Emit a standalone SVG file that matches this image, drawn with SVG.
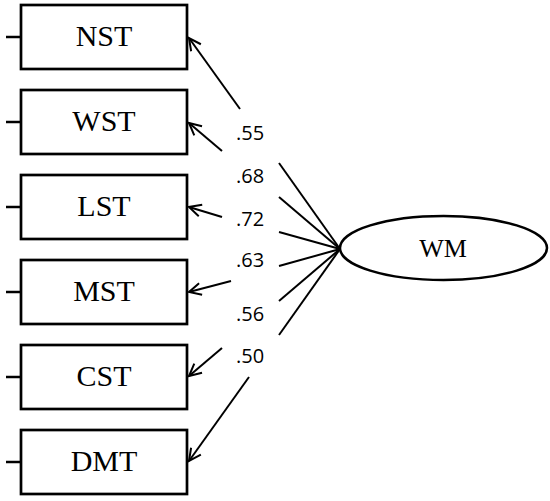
<svg xmlns="http://www.w3.org/2000/svg" width="550" height="501" viewBox="0 0 550 501">
<style>
.box{fill:#fff;stroke:#000;stroke-width:2.7}
.stub{stroke:#000;stroke-width:2.5}
.lbl{font-family:"Liberation Serif","Times New Roman",serif;font-size:30px;text-anchor:middle;fill:#000}
.num{font-family:"Open Sans","DejaVu Sans",sans-serif;font-size:20px;text-anchor:middle;fill:#000}
.con{stroke:#000;stroke-width:2;fill:none}
</style>
<defs>
<marker id="arr" viewBox="-14 -8 16 16" refX="0" refY="0" markerWidth="16" markerHeight="16" markerUnits="userSpaceOnUse" orient="auto">
<path d="M-12,-6 L0,0 L-12,6" fill="none" stroke="#000" stroke-width="2"/>
</marker>
</defs>
<rect width="550" height="501" fill="#fff"/>
<g id="NST"><line class="stub" x1="6" y1="37" x2="21" y2="37"/><rect class="box" x="21" y="5" width="166" height="64"/><text class="lbl" x="104" y="46">NST</text></g>
<g id="WST"><line class="stub" x1="6" y1="122" x2="21" y2="122"/><rect class="box" x="21" y="90" width="166" height="64"/><text class="lbl" x="104" y="131">WST</text></g>
<g id="LST"><line class="stub" x1="6" y1="207" x2="21" y2="207"/><rect class="box" x="21" y="175" width="166" height="64"/><text class="lbl" x="104" y="216">LST</text></g>
<g id="MST"><line class="stub" x1="6" y1="292" x2="21" y2="292"/><rect class="box" x="21" y="260" width="166" height="64"/><text class="lbl" x="104" y="301">MST</text></g>
<g id="CST"><line class="stub" x1="6" y1="377" x2="21" y2="377"/><rect class="box" x="21" y="345" width="166" height="64"/><text class="lbl" x="104" y="386">CST</text></g>
<g id="DMT"><line class="stub" x1="6" y1="462" x2="21" y2="462"/><rect class="box" x="21" y="430" width="166" height="64"/><text class="lbl" x="104" y="471">DMT</text></g>
<g id="WM"><ellipse cx="443.5" cy="248" rx="103.5" ry="32" fill="#fff" stroke="#000" stroke-width="2.5"/><text class="lbl" x="443" y="257" style="font-size:26px">WM</text></g>
<g id="connectors">
<line class="con" x1="240" y1="109" x2="189" y2="38" marker-end="url(#arr)"/>
<line class="con" x1="279" y1="163" x2="340" y2="249"/>
<line class="con" x1="222" y1="151" x2="189" y2="123" marker-end="url(#arr)"/>
<line class="con" x1="279" y1="197" x2="340" y2="249"/>
<line class="con" x1="222" y1="217" x2="189" y2="207" marker-end="url(#arr)"/>
<line class="con" x1="279" y1="232" x2="340" y2="249"/>
<line class="con" x1="231" y1="281" x2="189" y2="292" marker-end="url(#arr)"/>
<line class="con" x1="279" y1="266" x2="340" y2="249"/>
<line class="con" x1="222" y1="348" x2="189" y2="376" marker-end="url(#arr)"/>
<line class="con" x1="279" y1="301" x2="340" y2="249"/>
<line class="con" x1="249" y1="377" x2="189" y2="461" marker-end="url(#arr)"/>
<line class="con" x1="279" y1="335" x2="340" y2="249"/>
<text class="num" x="250" y="140">.55</text>
<text class="num" x="250" y="183">.68</text>
<text class="num" x="250" y="226">.72</text>
<text class="num" x="250" y="267">.63</text>
<text class="num" x="250" y="321">.56</text>
<text class="num" x="250" y="363">.50</text>
</g>
</svg>
